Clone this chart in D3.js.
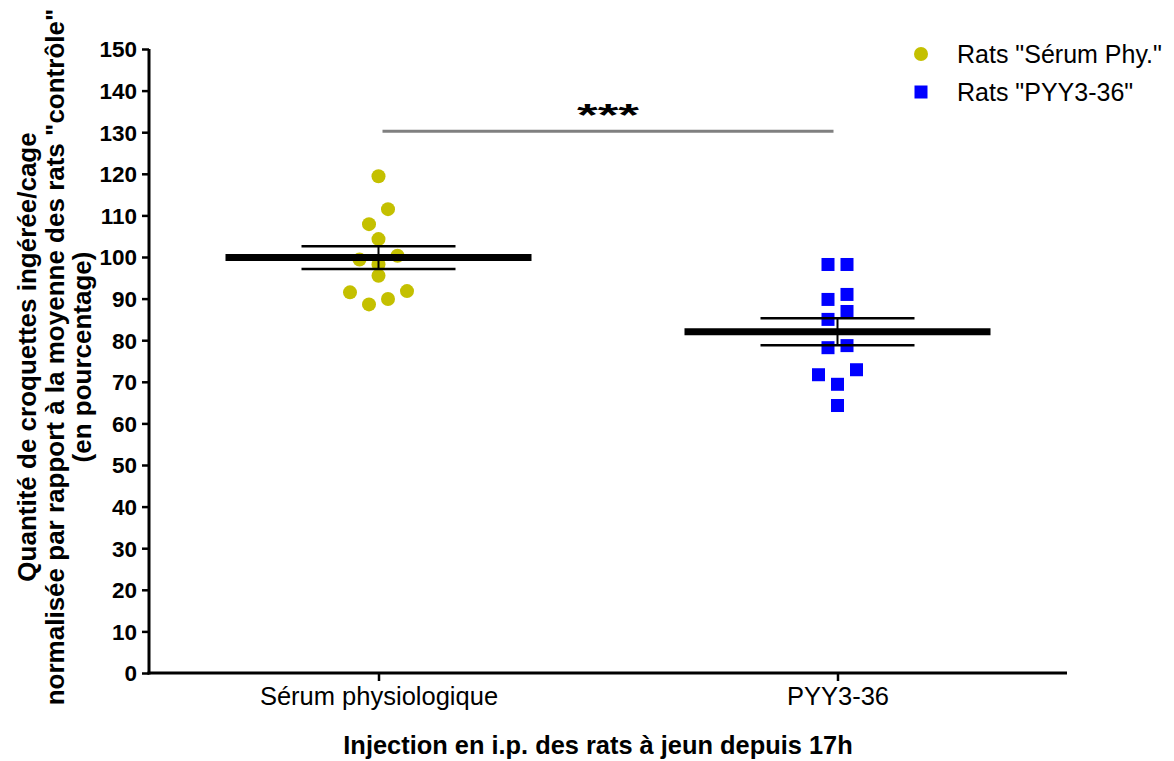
<!DOCTYPE html>
<html>
<head>
<meta charset="utf-8">
<script src="https://cdn.jsdelivr.net/npm/d3@7"></script>
<style>
  body { margin: 0; background: #fff; }
  svg { display: block; font-family: "Liberation Sans", Arial, sans-serif; }
</style>
</head>
<body>
<div id="chart"></div>
<script>
// data
const groups = ["Sérum physiologique", "PYY3-36"];
const serumValues = [119.4, 111.5, 107.9, 104.3, 100.3, 99.4, 98.2, 95.5, 91.8, 91.5, 89.9, 88.6];
const pyyValues = [98.2, 98.2, 91.0, 89.8, 86.9, 85.0, 78.7, 78.2, 72.9, 71.7, 69.4, 64.3];
const legendLabels = ['Rats "Sérum Phy."', 'Rats "PYY3-36"'];
const groupColors = ["#c4c000", "#0000ff"];
const yTicks = [0, 10, 20, 30, 40, 50, 60, 70, 80, 90, 100, 110, 120, 130, 140, 150];
const significance = "***";
const xTitle = "Injection en i.p. des rats à jeun depuis 17h";
const yTitle = [
  "Quantité de croquettes ingérée/cage",
  "normalisée par rapport à la moyenne des rats \"contrôle\"",
  "(en pourcentage)"
];

const width = 1174, height = 761;

const svg = d3.select("#chart").append("svg")
  .attr("width", width)
  .attr("height", height);

const y = d3.scaleLinear().domain([0, 150]).range([673, 49]);
const x = d3.scalePoint().domain(groups).range([149, 1067]).padding(0.5);

// scatter layout: points close in y share a row and get spread sideways
function swarm(vals, cx) {
  const step = 19, rowH = 15;
  const pts = vals.map(v => ({ v, py: y(v) })).sort((a, b) => a.py - b.py);
  const rows = [];
  pts.forEach(p => {
    const last = rows[rows.length - 1];
    if (last && p.py - last[0].py < rowH) last.push(p);
    else rows.push([p]);
  });
  rows.forEach(row => {
    const n = row.length;
    const offs = d3.range(n).map(i => (i - (n - 1) / 2) * step)
      .sort((a, b) => Math.abs(b) - Math.abs(a) || b - a);
    row.forEach((p, i) => { p.px = cx + offs[i]; });
  });
  return pts;
}

const serumPts = swarm(serumValues, x(groups[0]));
const pyyPts = swarm(pyyValues, x(groups[1]));

// points
svg.append("g").selectAll("circle")
  .data(serumPts)
  .join("circle")
  .attr("cx", d => d.px)
  .attr("cy", d => d.py)
  .attr("r", 7)
  .attr("fill", groupColors[0]);

svg.append("g").selectAll("rect")
  .data(pyyPts)
  .join("rect")
  .attr("x", d => d.px - 6.5)
  .attr("y", d => d.py - 6.5)
  .attr("width", 13)
  .attr("height", 13)
  .attr("fill", groupColors[1]);

// mean +/- SEM
const stats = [serumValues, pyyValues].map((vals, i) => {
  const m = d3.mean(vals);
  const sem = d3.deviation(vals) / Math.sqrt(vals.length);
  return { g: groups[i], mean: m, lo: m - sem, hi: m + sem };
});

const eb = svg.append("g").attr("stroke", "#000");
stats.forEach(s => {
  const cx = x(s.g);
  eb.append("line")
    .attr("x1", cx).attr("x2", cx)
    .attr("y1", y(s.hi)).attr("y2", y(s.lo))
    .attr("stroke-width", 2);
  [s.hi, s.lo].forEach(v => {
    eb.append("line")
      .attr("x1", cx - 77).attr("x2", cx + 77)
      .attr("y1", y(v)).attr("y2", y(v))
      .attr("stroke-width", 2.5);
  });
  eb.append("line")
    .attr("x1", cx - 153).attr("x2", cx + 153)
    .attr("y1", y(s.mean)).attr("y2", y(s.mean))
    .attr("stroke-width", 7);
});

// significance bar
svg.append("line")
  .attr("x1", x(groups[0]) + 4).attr("x2", x(groups[1]) - 4)
  .attr("y1", y(130.2)).attr("y2", y(130.2))
  .attr("stroke", "#808080")
  .attr("stroke-width", 3);

svg.append("text")
  .attr("x", (x(groups[0]) + x(groups[1])) / 2 - 31)
  .attr("y", 126)
  .attr("font-size", 32)
  .attr("font-weight", "bold")
  .attr("textLength", 62)
  .attr("lengthAdjust", "spacingAndGlyphs")
  .text(significance);

// axes
const yAxis = svg.append("g")
  .attr("transform", "translate(149,0)")
  .call(d3.axisLeft(y).tickValues(yTicks).tickSize(7).tickSizeOuter(0).tickPadding(5));
const xAxis = svg.append("g")
  .attr("transform", "translate(0,673)")
  .call(d3.axisBottom(x).tickSize(8).tickSizeOuter(0).tickPadding(6));

[yAxis, xAxis].forEach(a => {
  a.select(".domain").attr("stroke", "#000").attr("stroke-width", 3);
  a.selectAll(".tick line").attr("stroke", "#000").attr("stroke-width", 2.5);
});
yAxis.select(".domain").attr("d", "M0,674.5V49");
xAxis.select(".domain").attr("d", "M147.5,0H1067");

yAxis.selectAll(".tick text")
  .attr("font-family", "Liberation Sans, Arial, sans-serif")
  .attr("font-size", 22.5)
  .attr("font-weight", "bold")
  .attr("fill", "#000")
  .attr("dy", "0.35em");

xAxis.selectAll(".tick text")
  .attr("font-family", "Liberation Sans, Arial, sans-serif")
  .attr("font-size", 25.5)
  .attr("fill", "#000")
  .attr("dy", "0.71em");

// axis titles
svg.append("text")
  .attr("x", 598)
  .attr("y", 754)
  .attr("text-anchor", "middle")
  .attr("font-size", 25.4)
  .attr("font-weight", "bold")
  .text(xTitle);

const yt = svg.append("text")
  .attr("transform", "translate(36,357) rotate(-90)")
  .attr("text-anchor", "middle")
  .attr("font-size", 26)
  .attr("font-weight", "bold");
yTitle.forEach((t, i) => {
  yt.append("tspan")
    .attr("x", 0)
    .attr("y", i * 27.5)
    .text(t);
});

// legend
const legend = svg.append("g");
legendLabels.forEach((lab, i) => {
  const ly = 54 + i * 38;
  if (i === 0) {
    legend.append("circle").attr("cx", 921).attr("cy", ly).attr("r", 7).attr("fill", groupColors[0]);
  } else {
    legend.append("rect").attr("x", 914.5).attr("y", ly - 6.5).attr("width", 13).attr("height", 13).attr("fill", groupColors[1]);
  }
  legend.append("text")
    .attr("x", 957)
    .attr("y", ly + 9)
    .attr("font-size", 25)
    .text(lab);
});
</script>
</body>
</html>
